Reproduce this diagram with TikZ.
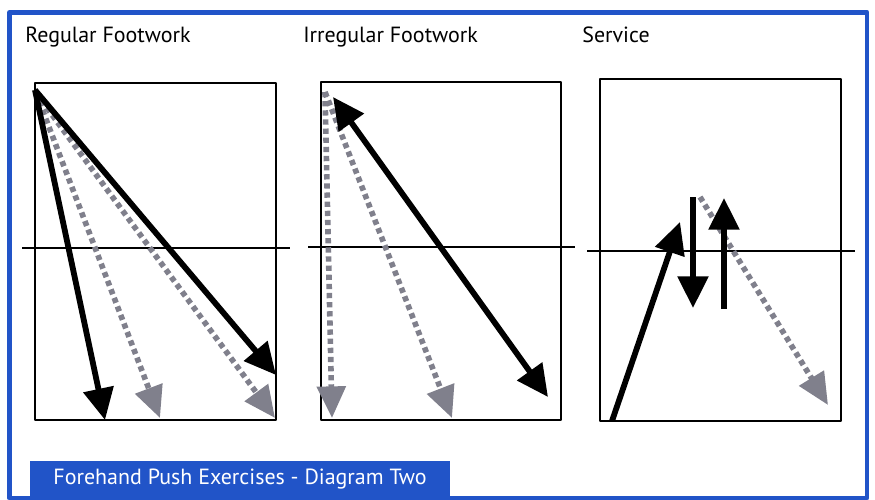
\documentclass[tikz,border=0pt]{standalone}
\usepackage{fontspec}
\setsansfont{PT Sans}
\usetikzlibrary{arrows.meta}
\definecolor{frameblue}{RGB}{33,84,200}
\definecolor{dotgray}{RGB}{128,128,140}

\begin{document}
\begin{tikzpicture}[x=0.02cm,y=-0.02cm,line join=round,
  font=\sffamily\fontsize{12.5}{15}\selectfont,
  >={Triangle[length=18pt,width=17pt]},
  court/.style={line width=0.8pt},
  hit/.style={line width=3.3pt},
  ghost/.style={draw=dotgray,line width=3.2pt,dash pattern=on 3pt off 2.2pt,
    -{Triangle[length=18pt,width=16pt]}},
  heading/.style={anchor=base west,inner sep=0pt},
  banner/.style={fill=frameblue,text=white,minimum width=8.4cm,
    minimum height=0.74cm,inner sep=0pt}]
\useasboundingbox (0,0) rectangle (875,500);
\path
% regular footwork
(35,90) coordinate (A)
(36,93) coordinate (A')
(105,420) coordinate (A1)
(276,375) coordinate (A2)
(160,418) coordinate (A3)
(275,418) coordinate (A4)
% irregular footwork
(325,92) coordinate (B)
(332,418) coordinate (B1)
(452,418) coordinate (B2)
(333,97) coordinate (B3)
(548,397) coordinate (B4)
% service
(612,421) coordinate (C1)
(680,222) coordinate (C2)
(693,197) coordinate (C3)
(693,308) coordinate (C4)
(724,309) coordinate (C5)
(724,198) coordinate (C6)
(700,197) coordinate (C7)
(828,405) coordinate (C8)
;
\draw[frameblue,line width=2.8pt] (9.5,12.5) rectangle (867,498);
\foreach \l/\r/\t/\b/\y in {35/276/83/420/248,321/561/82/420/247,600/841/79/421/251}
{\draw[court] (\l,\t) rectangle (\r,\b);
 \draw[court] (\l-13,\y)--(\r+14,\y);}
\node[heading] (regular) at (25,43) {Regular Footwork};
\node[heading] (irregular) at (303,43) {Irregular Footwork};
\node[heading] (service) at (582,43) {Service};
\draw[ghost] (A')--(A3);
\draw[ghost] (A')--(A4);
\draw[hit,->] (A)--(A1);
\draw[hit,->] (A)--(A2);
\draw[ghost] (B)--(B1);
\draw[ghost] (B)--(B2);
\draw[hit,<->] (B3)--(B4);
\draw[ghost] (C7)--(C8);
\draw[hit,->] (C1)--(C2);
\draw[hit,->] (C3)--(C4);
\draw[hit,->] (C5)--(C6);
\node[banner] (caption) at (240,479.5) {Forehand Push Exercises - Diagram Two};
\end{tikzpicture}
\end{document}
